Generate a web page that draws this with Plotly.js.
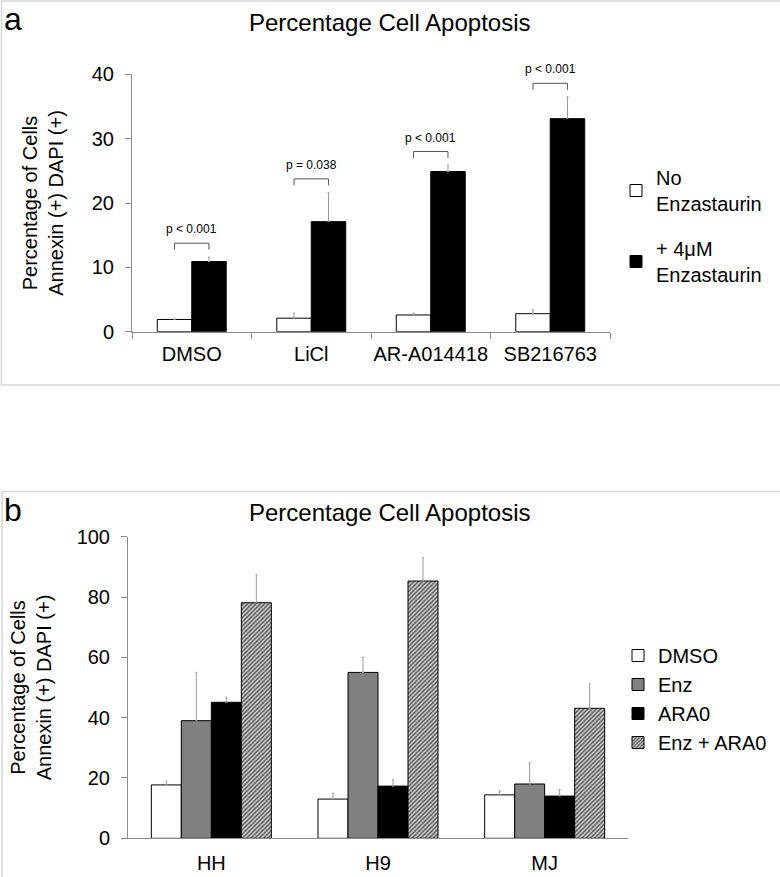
<!DOCTYPE html>
<html>
<head>
<meta charset="utf-8">
<script src="https://cdn.plot.ly/plotly-3.0.1.min.js"></script>
<style>html,body{margin:0;padding:0;background:#fff;}#chart{width:780px;height:877px;}</style>
</head>
<body>
<div id="chart"></div>
<script>
// ---- Panel a data ----
const catsA = ['DMSO', 'LiCl', 'AR-A014418', 'SB216763'];
const noEnz = [1.9, 2.1, 2.6, 2.8];
const noEnzErr = [0.1, 0.8, 0.3, 0.6];
const enz4 = [10.9, 17.1, 24.9, 33.1];
const enz4Err = [0.7, 4.5, 1.0, 3.4];
const pLabels = ['p < 0.001', 'p = 0.038', 'p < 0.001', 'p < 0.001'];
const pBracket = [13.75, 23.75, 28.0, 38.6];
const yTicksA = [0, 10, 20, 30, 40];

// ---- Panel b data ----
const catsB = ['HH', 'H9', 'MJ'];
const dmsoB = [17.7, 13.0, 14.4];
const dmsoBErr = [1.3, 1.9, 1.3];
const enzB = [39.0, 55.0, 18.0];
const enzBErr = [16.0, 5.0, 7.2];
const araB = [45.1, 17.3, 14.0];
const araBErr = [1.7, 2.1, 2.2];
const enzAraB = [78.1, 85.3, 43.1];
const enzAraBErr = [9.4, 7.7, 8.1];
const yTicksB = [0, 20, 40, 60, 80, 100];

const W = 780, H = 877;
const FONT = '"Liberation Sans", Arial, sans-serif';
const px = v => v / W;
const py = v => 1 - v / H;
const errStyle = {type: 'data', symmetric: false, color: '#9a9a9a', thickness: 1, width: 1};
const outline = {color: '#000', width: 1};
const upOnly = arr => Object.assign({array: arr, arrayminus: arr.map(() => 0)}, errStyle);

// panel b: 4 bars per group, each 0.18 of a category wide
const bW = 0.18;
const bOff = k => -2 * bW + k * bW;

const traces = [
  {type: 'bar', x: catsA, y: noEnz, name: 'No<br>Enzastaurin', xaxis: 'x', yaxis: 'y', legend: 'legend', legendgroup: 'a1',
   marker: {color: '#ffffff', line: outline}, error_y: upOnly(noEnzErr)},
  {type: 'bar', x: catsA, y: enz4, name: '+ 4\u03bcM<br>Enzastaurin', xaxis: 'x', yaxis: 'y', legend: 'legend', legendgroup: 'a2',
   marker: {color: '#000000', line: outline}, error_y: upOnly(enz4Err)},
  {type: 'bar', x: catsB, y: dmsoB, name: 'DMSO', xaxis: 'x2', yaxis: 'y2', legend: 'legend2',
   width: bW, offset: bOff(0), marker: {color: '#ffffff', line: outline}, error_y: upOnly(dmsoBErr)},
  {type: 'bar', x: catsB, y: enzB, name: 'Enz', xaxis: 'x2', yaxis: 'y2', legend: 'legend2',
   width: bW, offset: bOff(1), marker: {color: '#808080', line: outline}, error_y: upOnly(enzBErr)},
  {type: 'bar', x: catsB, y: araB, name: 'ARA0', xaxis: 'x2', yaxis: 'y2', legend: 'legend2',
   width: bW, offset: bOff(2), marker: {color: '#000000', line: outline}, error_y: upOnly(araBErr)},
  {type: 'bar', x: catsB, y: enzAraB, name: 'Enz + ARA0', xaxis: 'x2', yaxis: 'y2', legend: 'legend2',
   width: bW, offset: bOff(3),
   marker: {color: '#d4d4d4', line: outline,
            pattern: {shape: '/', size: 3, solidity: 0.45, fgcolor: '#4a4a4a', bgcolor: '#d4d4d4'}},
   error_y: upOnly(enzAraBErr)}
];

// bracket annotations for p-values (category index +/- half of a bar slot)
const barHalf = 0.144;
const shapes = [];
const annotations = [];
pBracket.forEach((yb, i) => {
  const path = `M${i - barHalf},${yb - 1} L${i - barHalf},${yb} L${i + barHalf},${yb} L${i + barHalf},${yb - 1}`;
  shapes.push({type: 'path', xref: 'x', yref: 'y', path: path, line: {color: '#555', width: 1}});
  annotations.push({xref: 'x', yref: 'y', x: i, y: yb, yshift: 14, text: pLabels[i], showarrow: false,
    font: {family: FONT, size: 12, color: '#000'}, xanchor: 'center', yanchor: 'middle'});
});

// panel frames
shapes.push({type: 'rect', xref: 'paper', yref: 'paper', x0: px(1.5), x1: px(785), y0: py(385), y1: py(1),
  line: {color: '#d6d6d6', width: 1.5}});
shapes.push({type: 'rect', xref: 'paper', yref: 'paper', x0: px(2), x1: px(785), y0: py(885), y1: py(491.5),
  line: {color: '#d6d6d6', width: 1.5}});

annotations.push(
  {xref: 'paper', yref: 'paper', x: 0.5, y: py(23), text: 'Percentage Cell Apoptosis', showarrow: false,
   font: {family: FONT, size: 24, color: '#000'}, xanchor: 'center', yanchor: 'middle'},
  {xref: 'paper', yref: 'paper', x: 0.5, y: py(512), text: 'Percentage Cell Apoptosis', showarrow: false,
   font: {family: FONT, size: 24, color: '#000'}, xanchor: 'center', yanchor: 'middle'},
  {xref: 'paper', yref: 'paper', x: px(2), y: py(19), text: 'a', showarrow: false,
   font: {family: FONT, size: 32, color: '#000'}, xanchor: 'left', yanchor: 'middle'},
  {xref: 'paper', yref: 'paper', x: px(2), y: py(510), text: 'b', showarrow: false,
   font: {family: FONT, size: 32, color: '#000'}, xanchor: 'left', yanchor: 'middle'}
);

const axFont = {family: FONT, size: 20, color: '#000'};
const layout = {
  width: W, height: H,
  margin: {l: 0, r: 0, t: 0, b: 0},
  paper_bgcolor: '#fff', plot_bgcolor: '#fff',
  font: {family: FONT, color: '#000'},
  barmode: 'group',
  bargap: 0.423,
  showlegend: true,
  xaxis: {domain: [px(132), px(610)], anchor: 'y', type: 'category', showline: true, linecolor: '#8c8c8c', linewidth: 1,
    ticks: 'outside', tickson: 'boundaries', ticklen: 6, tickcolor: '#8c8c8c', tickfont: axFont, tickangle: 0,
    showgrid: false, zeroline: false, ticklabelstandoff: 4},
  yaxis: {domain: [py(331.7), py(74.3)], anchor: 'x', range: [0, 40], tickvals: yTicksA, showline: true,
    linecolor: '#8c8c8c', linewidth: 1, ticks: 'outside', ticklen: 6, tickcolor: '#8c8c8c', tickfont: axFont,
    showgrid: false, zeroline: false, ticklabelstandoff: 7,
    title: {text: 'Percentage of Cells<br>Annexin (+) DAPI (+)', font: axFont, standoff: 22}},
  xaxis2: {domain: [px(128), px(628)], anchor: 'y2', type: 'category', showline: true, linecolor: '#8c8c8c', linewidth: 1,
    ticks: '', tickfont: axFont, tickangle: 0, showgrid: false, zeroline: false, ticklabelstandoff: 7},
  yaxis2: {domain: [py(838.3), py(536.7)], anchor: 'x2', range: [0, 100], tickvals: yTicksB, showline: true,
    linecolor: '#8c8c8c', linewidth: 1, ticks: 'outside', ticklen: 6, tickcolor: '#8c8c8c', tickfont: axFont,
    showgrid: false, zeroline: false, ticklabelstandoff: 7,
    title: {text: 'Percentage of Cells<br>Annexin (+) DAPI (+)', font: axFont, standoff: 19}},
  legend: {x: px(616), y: py(226), xanchor: 'left', yanchor: 'middle', font: axFont, bgcolor: 'rgba(0,0,0,0)',
    tracegroupgap: 16},
  legend2: {x: px(618), y: py(699), xanchor: 'left', yanchor: 'middle', font: axFont, bgcolor: 'rgba(0,0,0,0)'},
  shapes: shapes,
  annotations: annotations
};

Plotly.newPlot('chart', traces, layout, {displayModeBar: false, staticPlot: true});
</script>
</body>
</html>
